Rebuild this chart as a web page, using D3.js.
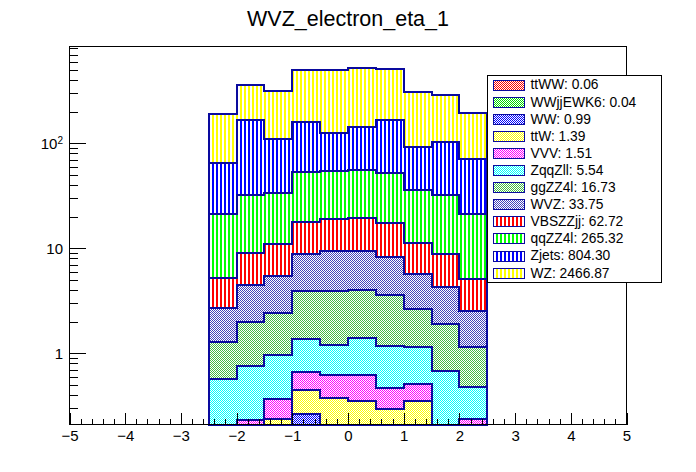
<!DOCTYPE html>
<html>
<head>
<meta charset="utf-8">
<script src="https://cdn.jsdelivr.net/npm/d3@7"></script>
<style>
  body { margin: 0; background: #fff; }
  svg { display: block; }
  text { font-family: "Liberation Sans", Arial, Helvetica, sans-serif; }
</style>
</head>
<body>
<div id="chart"></div>
<script>
// ---------------------------------------------------------
// DATA – per-process yields in the 10 filled eta bins
// ---------------------------------------------------------
const binEdges = [-2.5, -2, -1.5, -1, -0.5, 0, 0.5, 1, 1.5, 2, 2.5];

// bottom of the stack first
const processes = ["ttWW", "WWjjEWK6", "WW", "ttW", "VVV", "ZqqZll",
                   "ggZZ4l", "WVZ", "VBSZZjj", "qqZZ4l", "Zjets", "WZ"];
const legendTotals = ["0.06", "0.04", "0.99", "1.39", "1.51", "5.54",
                      "16.73", "33.75", "62.72", "265.32", "804.30", "2466.87"];

const ttWW     = [0.004, 0.005, 0.006, 0.010, 0.007, 0.007, 0.006, 0.006, 0.005, 0.004];
const WWjjEWK6 = [0.003, 0.004, 0.004, 0.006, 0.004, 0.005, 0.004, 0.004, 0.003, 0.003];
const WW       = [0.05, 0.10, 0.05, 0.248, 0.11, 0.09, 0.09, 0.09, 0.10, 0.06];
const ttW      = [0.02, 0.03, 0.175, 0.18, 0.252, 0.247, 0.193, 0.251, 0.02, 0.02];
const VVV      = [0.05, 0.091, 0.13, 0.215, 0.248, 0.268, 0.171, 0.159, 0.04, 0.151];
const ZqqZll   = [0.439, 0.522, 0.592, 0.70, 0.571, 0.772, 0.702, 0.631, 0.506, 0.24];
const ggZZ4l   = [0.708, 1.235, 1.463, 2.536, 2.703, 2.592, 2.401, 1.483, 1.215, 0.663];
const WVZ      = [1.41, 2.485, 3.03, 4.87, 5.47, 5.38, 4.64, 3.07, 2.36, 1.37];
const VBSZZjj  = [2.50, 4.49, 5.47, 8.92, 9.53, 9.95, 9.09, 5.54, 4.57, 2.56];
const qqZZ4l   = [15.9, 23.0, 22.5, 35.25, 35.2, 36.0, 34.5, 24.45, 23.15, 16.0];
const Zjets    = [43.4, 133.6, 75.7, 106.7, 71.2, 86.7, 113.8, 55.9, 70.9, 49.8];
const WZ       = [125.5, 193.4, 203.9, 336.4, 370.7, 376.0, 341.4, 214.4, 185.1, 123.1];

const yields = { ttWW, WWjjEWK6, WW, ttW, VVV, ZqqZll, ggZZ4l, WVZ, VBSZZjj, qqZZ4l, Zjets, WZ };

const xMajorTicks = [-5, -4, -3, -2, -1, 0, 1, 2, 3, 4, 5];
const yLabelTicks = [1, 10, 100];
const yMinorTicks = [0.3, 0.4, 0.5, 0.6, 0.7, 0.8, 0.9,
                     2, 3, 4, 5, 6, 7, 8, 9,
                     20, 30, 40, 50, 60, 70, 80, 90,
                     200, 300, 400, 500, 600, 700, 800];

// ---------------------------------------------------------
// STYLES – fill pattern per process
// ---------------------------------------------------------
const fillStyle = {
  ttWW:     { kind: "check", color: "#ff0000" },
  WWjjEWK6: { kind: "check", color: "#00dd00" },
  WW:       { kind: "check", color: "#0000ff" },
  ttW:      { kind: "check", color: "#ffff00" },
  VVV:      { kind: "check", color: "#ff00ff" },
  ZqqZll:   { kind: "check", color: "#00ffff" },
  ggZZ4l:   { kind: "check", color: "#44bb44" },
  WVZ:      { kind: "check", color: "#4444bb" },
  VBSZZjj:  { kind: "lines", color: "#ff0000" },
  qqZZ4l:   { kind: "lines", color: "#00ff00" },
  Zjets:    { kind: "lines", color: "#0000ff" },
  WZ:       { kind: "lines", color: "#ffff00" }
};
const lineColor = "#0a0a9e";

// ---------------------------------------------------------
// SVG + SCALES
// ---------------------------------------------------------
const width = 696, height = 472;
const svg = d3.select("#chart").append("svg")
    .attr("width", width)
    .attr("height", height);

const x = d3.scaleLinear().domain([-5, 5]).range([69.5, 626.5]);
const y = d3.scaleLog().domain([0.21, 835]).range([424.5, 46.5]).clamp(true);
const yBottom = y.range()[0];

// patterns
const defs = svg.append("defs");
processes.forEach(p => {
  const st = fillStyle[p];
  const pat = defs.append("pattern")
      .attr("id", "pat-" + p)
      .attr("patternUnits", "userSpaceOnUse")
      .attr("width", st.kind === "check" ? 2 : 4)
      .attr("height", st.kind === "check" ? 2 : 4);
  pat.append("rect").attr("width", 4).attr("height", 4).attr("fill", "#fff");
  if (st.kind === "check") {
    pat.append("rect").attr("x", 0).attr("y", 0).attr("width", 1).attr("height", 1).attr("fill", st.color);
    pat.append("rect").attr("x", 1).attr("y", 1).attr("width", 1).attr("height", 1).attr("fill", st.color);
  } else {
    pat.append("rect").attr("x", 0).attr("y", 0).attr("width", 2).attr("height", 4).attr("fill", st.color);
  }
});

// ---------------------------------------------------------
// STACK
// ---------------------------------------------------------
const rows = binEdges.slice(0, -1).map((lo, i) => {
  const r = { lo: lo, hi: binEdges[i + 1] };
  processes.forEach(p => { r[p] = yields[p][i]; });
  return r;
});
const series = d3.stack().keys(processes)(rows);

function cumPath(s) {
  let d = `M${x(rows[0].lo)},${yBottom}`;
  s.forEach(b => {
    const yy = y(Math.max(b[1], 1e-3));
    d += `L${x(b.data.lo)},${yy}L${x(b.data.hi)},${yy}`;
  });
  d += `L${x(rows[rows.length - 1].hi)},${yBottom}Z`;
  return d;
}

const histG = svg.append("g");
// draw the total first, smaller cumulative histograms on top
series.slice().reverse().forEach(s => {
  histG.append("path")
    .attr("d", cumPath(s))
    .attr("fill", `url(#pat-${s.key})`)
    .attr("stroke", lineColor)
    .attr("stroke-width", 2)
    .attr("shape-rendering", "crispEdges");
});

// ---------------------------------------------------------
// AXES
// ---------------------------------------------------------
const xAxisG = svg.append("g").attr("transform", `translate(0,${yBottom})`);
xAxisG.append("g")
  .call(d3.axisBottom(x).tickValues(d3.range(-5, 5.001, 0.2)).tickSize(-5.6).tickFormat(""))
  .call(g => g.select(".domain").remove());
xAxisG.append("g")
  .call(d3.axisBottom(x).tickValues(xMajorTicks).tickSize(-11.3).tickPadding(6)
        .tickFormat(d => d < 0 ? "\u2212" + Math.abs(d) : String(d)))
  .call(g => g.select(".domain").remove())
  .call(g => g.selectAll("text").attr("font-size", 15).attr("font-family", null));

const yAxisG = svg.append("g").attr("transform", `translate(${x.range()[0]},0)`);
yAxisG.append("g")
  .call(d3.axisLeft(y).tickValues(yMinorTicks).tickSize(-8.4).tickFormat(""))
  .call(g => g.select(".domain").remove());
yAxisG.append("g")
  .call(d3.axisLeft(y).tickValues(yLabelTicks).tickSize(-16.7).tickPadding(6.5)
        .tickFormat(d => d === 100 ? "10" : String(d)))
  .call(g => g.select(".domain").remove())
  .call(g => g.selectAll("text").attr("font-size", 15).attr("font-family", null))
  .call(g => g.selectAll("text").filter(d => d === 100)
        .append("tspan").attr("dy", "-0.45em").attr("font-size", 10).text("2"));

svg.selectAll(".tick line").attr("stroke", "#000").attr("shape-rendering", "crispEdges");

// frame
svg.append("rect")
  .attr("x", x.range()[0]).attr("y", y.range()[1])
  .attr("width", x.range()[1] - x.range()[0])
  .attr("height", y.range()[0] - y.range()[1])
  .attr("fill", "none").attr("stroke", "#000").attr("stroke-width", 1)
  .attr("shape-rendering", "crispEdges");

// title
svg.append("text")
  .attr("x", width / 2).attr("y", 26)
  .attr("text-anchor", "middle")
  .attr("font-size", 21.5)
  .text("WVZ_electron_eta_1");

// ---------------------------------------------------------
// LEGEND
// ---------------------------------------------------------
const legend = svg.append("g");
legend.append("rect")
  .attr("x", 487.5).attr("y", 75.5).attr("width", 174).attr("height", 207)
  .attr("fill", "#fff").attr("stroke", "#000").attr("stroke-width", 1)
  .attr("shape-rendering", "crispEdges");

const rowY = d3.scalePoint().domain(processes).range([84.5, 272.6]);
processes.forEach((p, i) => {
  const cy = rowY(p);
  legend.append("rect")
    .attr("x", 493.5).attr("y", Math.round(cy - 5) + 0.5)
    .attr("width", 31).attr("height", 10)
    .attr("fill", `url(#pat-${p})`)
    .attr("stroke", lineColor).attr("stroke-width", 1.5)
    .attr("shape-rendering", "crispEdges");
  legend.append("text")
    .attr("x", 530.5).attr("y", cy + 4.9)
    .attr("font-size", 13.8)
    .text(`${p}: ${legendTotals[i]}`);
});
</script>
</body>
</html>
